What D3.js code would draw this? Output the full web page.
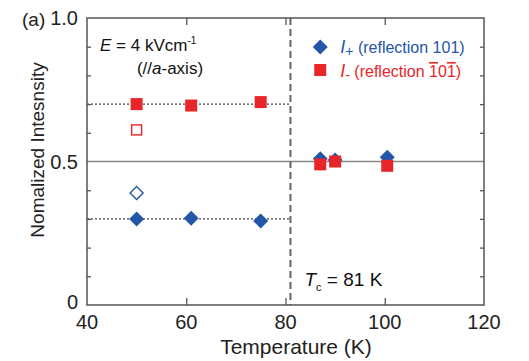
<!DOCTYPE html>
<html>
<head>
<meta charset="utf-8">
<script src="https://cdn.jsdelivr.net/npm/d3@7"></script>
<style>
  body { margin: 0; background: #fff; }
  text { font-family: "Liberation Sans", Arial, sans-serif; }
</style>
</head>
<body>
<div id="chart"></div>
<script>
const W = 529, H = 361;
const MARGIN = { top: 18, right: 45, bottom: 56, left: 87 };

// I+ (reflection 101), filled diamonds
const plusTemps = [50, 61, 75, 87, 90, 100.5];
const plusValues = [0.30, 0.302, 0.293, 0.51, 0.505, 0.515];
// I- (reflection -10-1), filled squares
const minusTemps = [50, 61, 75, 87, 90, 100.5];
const minusValues = [0.70, 0.695, 0.707, 0.49, 0.50, 0.485];
// open symbols at 50 K
const openTemps = [50];
const openPlus = [0.39];
const openMinus = [0.61];

const xTicks = [40, 60, 80, 100, 120];
const yLabels = [0, 0.5, 1.0];
const yMinor = [0.1, 0.2, 0.3, 0.4, 0.6, 0.7, 0.8, 0.9];
const TC = 81;
const dottedLevels = [0.7, 0.3];

const BLUE = "#2356a8", RED = "#e8262a", AXIS = "#555";

const svg = d3.select("#chart").append("svg").attr("width", W).attr("height", H);
const pw = W - MARGIN.left - MARGIN.right, ph = H - MARGIN.top - MARGIN.bottom;
const g = svg.append("g").attr("transform", `translate(${MARGIN.left},${MARGIN.top})`);

const x = d3.scaleLinear().domain([40, 120]).range([0, pw]);
const y = d3.scaleLinear().domain([0, 1]).range([ph, 0]);

// reference line at 0.5
g.append("line").attr("x1", 0).attr("x2", pw).attr("y1", y(0.5)).attr("y2", y(0.5))
  .attr("stroke", "#888").attr("stroke-width", 1.3);

// dotted guide lines below Tc
g.selectAll("line.dot").data(dottedLevels).join("line").attr("class", "dot")
  .attr("x1", 0).attr("x2", x(TC)).attr("y1", d => y(d)).attr("y2", d => y(d))
  .attr("stroke", "#444").attr("stroke-width", 1.3).attr("stroke-dasharray", "2,2");

// Tc dashed line
g.append("line").attr("x1", x(TC)).attr("x2", x(TC)).attr("y1", 0).attr("y2", ph)
  .attr("stroke", "#666").attr("stroke-width", 2).attr("stroke-dasharray", "7,4");

// axes (ticks inside)
const xIn = [60, 80, 100];
g.append("g").attr("transform", `translate(0,${ph})`)
  .call(d3.axisBottom(x).tickValues(xIn).tickSize(-7).tickFormat(""))
  .call(a => a.select(".domain").remove());
g.append("g")
  .call(d3.axisTop(x).tickValues(xIn).tickSize(-7).tickFormat(""))
  .call(a => a.select(".domain").remove());
g.append("g").call(d3.axisLeft(y).tickValues(yMinor).tickSize(-4).tickFormat(""))
  .call(a => a.select(".domain").remove());
g.append("g").attr("transform", `translate(${pw},0)`)
  .call(d3.axisRight(y).tickValues(yMinor).tickSize(-4).tickFormat(""))
  .call(a => a.select(".domain").remove());
g.selectAll(".tick line").attr("stroke", AXIS).attr("stroke-width", 1.3);

g.append("rect").attr("width", pw).attr("height", ph)
  .attr("fill", "none").attr("stroke", AXIS).attr("stroke-width", 1.5);

// tick labels
g.selectAll("text.xl").data(xTicks).join("text").attr("class", "xl")
  .attr("x", d => x(d)).attr("y", ph + 24).attr("text-anchor", "middle")
  .attr("font-size", 20).attr("fill", "#222").text(d => d);
g.selectAll("text.yl").data(yLabels).join("text").attr("class", "yl")
  .attr("x", -9).attr("y", d => y(d) + (d === 0 ? 4 : 7)).attr("text-anchor", "end")
  .attr("font-size", 20).attr("fill", "#222").text(d => d === 0 ? "0" : d.toFixed(1));

svg.append("text").attr("x", 22).attr("y", 26).attr("font-size", 19).attr("fill", "#222").text("(a)");

svg.append("text").attr("x", 296).attr("y", 354).attr("text-anchor", "middle")
  .attr("font-size", 21).attr("fill", "#222").text("Temperature (K)");
svg.append("text").attr("transform", `translate(44,150) rotate(-90)`)
  .attr("text-anchor", "middle").attr("font-size", 19).attr("fill", "#222").text("Nomalized Intesnsity");

// annotations
const e = g.append("text").attr("x", 13).attr("y", 33).attr("font-size", 17).attr("fill", "#111");
e.append("tspan").attr("font-style", "italic").text("E");
e.append("tspan").text(" = 4 kVcm");
e.append("tspan").attr("font-size", 10).attr("dy", -7).text("-1");
const ax = g.append("text").attr("x", 83).attr("y", 56).attr("text-anchor", "middle").attr("font-size", 17).attr("fill", "#111");
ax.append("tspan").text("(//");
ax.append("tspan").attr("font-style", "italic").text("a");
ax.append("tspan").text("-axis)");

const tc = g.append("text").attr("x", x(TC) + 14).attr("y", 268).attr("font-size", 19).attr("fill", "#111");
tc.append("tspan").attr("font-style", "italic").text("T");
tc.append("tspan").attr("font-size", 11).attr("dy", 5).text("c");
tc.append("tspan").attr("dy", -5).text(" = 81 K");

// markers
const diamondPath = s => `M0,${-s}L${s},0L0,${s}L${-s},0Z`;

g.selectAll("path.plus").data(plusTemps.map((t, i) => [t, plusValues[i]])).join("path").attr("class", "plus")
  .attr("d", diamondPath(7.5)).attr("transform", d => `translate(${x(d[0])},${y(d[1])})`).attr("fill", BLUE);
g.selectAll("rect.minus").data(minusTemps.map((t, i) => [t, minusValues[i]])).join("rect").attr("class", "minus")
  .attr("x", d => x(d[0]) - 6).attr("y", d => y(d[1]) - 6).attr("width", 12).attr("height", 12).attr("fill", RED);

g.selectAll("path.oplus").data(openTemps.map((t, i) => [t, openPlus[i]])).join("path").attr("class", "oplus")
  .attr("d", diamondPath(6.5)).attr("transform", d => `translate(${x(d[0])},${y(d[1])})`)
  .attr("fill", "none").attr("stroke", BLUE).attr("stroke-width", 1.4);
g.selectAll("rect.ominus").data(openTemps.map((t, i) => [t, openMinus[i]])).join("rect").attr("class", "ominus")
  .attr("x", d => x(d[0]) - 5).attr("y", d => y(d[1]) - 5).attr("width", 10).attr("height", 10)
  .attr("fill", "none").attr("stroke", RED).attr("stroke-width", 1.4);

// legend
const lg = g.append("g").attr("transform", `translate(${x(87)},0)`);
lg.append("path").attr("d", diamondPath(7.5)).attr("transform", "translate(0,29)").attr("fill", BLUE);
lg.append("rect").attr("x", -6).attr("y", 46).attr("width", 12).attr("height", 12).attr("fill", RED);
const l1 = lg.append("text").attr("x", 20).attr("y", 35).attr("font-size", 16).attr("fill", BLUE);
l1.append("tspan").attr("font-style", "italic").attr("font-size", 18).text("I");
l1.append("tspan").attr("font-size", 14).attr("dy", 3).text("+");
l1.append("tspan").attr("dy", -3).text(" (reflection 101)");
const l2 = lg.append("text").attr("x", 20).attr("y", 59).attr("font-size", 16).attr("fill", RED);
l2.append("tspan").attr("font-style", "italic").attr("font-size", 18).text("I");
l2.append("tspan").attr("font-size", 14).attr("dy", 3).text("-");
l2.append("tspan").attr("dy", -3).text(" (reflection ");
l2.append("tspan").attr("text-decoration", "overline").text("1");
l2.append("tspan").text("0");
l2.append("tspan").attr("text-decoration", "overline").text("1");
l2.append("tspan").text(")");
</script>
</body>
</html>
